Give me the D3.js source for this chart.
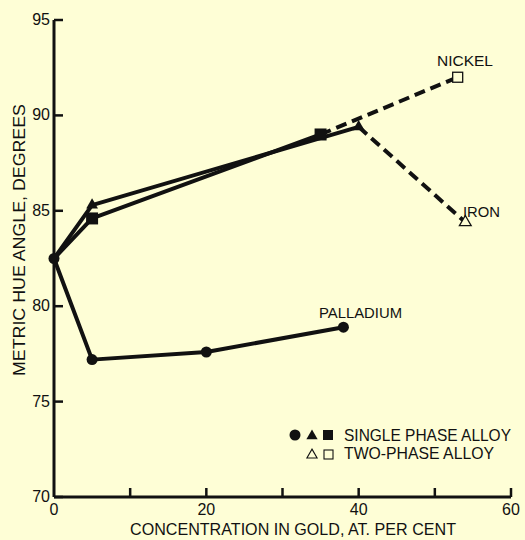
<!DOCTYPE html>
<html>
<head>
<meta charset="utf-8">
<script src="https://cdn.jsdelivr.net/npm/d3@7"></script>
<style>
  html, body { margin: 0; padding: 0; background: #fefed6; }
  svg { display: block; font-family: "Liberation Sans", Arial, sans-serif; }
</style>
</head>
<body>
<svg id="chart" width="525" height="540"></svg>
<script>
// values
const palladiumX = [0, 5, 20, 38];
const palladiumY = [82.5, 77.2, 77.6, 78.9];

const ironX      = [0, 5, 40];
const ironY      = [82.5, 85.3, 89.4];
const ironTwoX   = [40, 54];
const ironTwoY   = [89.4, 84.4];

const nickelX    = [0, 5, 35];
const nickelY    = [82.5, 84.6, 89.0];
const nickelTwoX = [35, 53];
const nickelTwoY = [89.0, 92.0];

const xTicks      = [0, 10, 20, 30, 40, 50, 60];
const xTickLabels = [0, 20, 40, 60];
const yTicks      = [70, 75, 80, 85, 90, 95];

const bg  = "#fefed6";
const ink = "#111";
const svg = d3.select("#chart");

const x = d3.scaleLinear().domain([0, 60]).range([54, 511]);
const y = d3.scaleLinear().domain([70, 95]).range([497, 20]);

const pts = (xs, ys) => xs.map((v, i) => [x(v), y(ys[i])]);
const line = d3.line();

// axes
const g = svg.append("g");
g.append("line").attr("x1", x(0)).attr("x2", x(0)).attr("y1", y(95)).attr("y2", y(70))
  .attr("stroke", ink).attr("stroke-width", 3);
g.append("line").attr("x1", x(0)).attr("x2", x(60)).attr("y1", y(70)).attr("y2", y(70))
  .attr("stroke", ink).attr("stroke-width", 3);

g.selectAll("line.yt").data(yTicks).enter().append("line")
  .attr("class", "yt")
  .attr("x1", x(0)).attr("x2", x(0) + 9)
  .attr("y1", d => y(d)).attr("y2", d => y(d))
  .attr("stroke", ink).attr("stroke-width", 2.5);

g.selectAll("text.yl").data(yTicks).enter().append("text")
  .attr("class", "yl")
  .attr("x", x(0) - 4).attr("y", d => y(d) + 5)
  .attr("text-anchor", "end")
  .attr("font-size", 16).attr("fill", ink)
  .text(d => d);

g.selectAll("line.xt").data(xTicks.slice(1)).enter().append("line")
  .attr("class", "xt")
  .attr("x1", d => x(d)).attr("x2", d => x(d))
  .attr("y1", y(70)).attr("y2", y(70) - 9)
  .attr("stroke", ink).attr("stroke-width", 2.5);

g.selectAll("text.xl").data(xTickLabels).enter().append("text")
  .attr("class", "xl")
  .attr("x", d => x(d)).attr("y", y(70) + 18)
  .attr("text-anchor", "middle")
  .attr("font-size", 16).attr("fill", ink)
  .text(d => d);

g.append("text")
  .attr("x", 130).attr("y", 535)
  .attr("font-size", 16.5).attr("fill", ink)
  .attr("textLength", 326).attr("lengthAdjust", "spacingAndGlyphs")
  .text("CONCENTRATION IN GOLD, AT. PER CENT");

g.append("text")
  .attr("transform", "translate(25,376) rotate(-90)")
  .attr("font-size", 16).attr("fill", ink)
  .attr("textLength", 272).attr("lengthAdjust", "spacingAndGlyphs")
  .text("METRIC HUE ANGLE, DEGREES");

// lines
const solid = [pts(palladiumX, palladiumY), pts(ironX, ironY), pts(nickelX, nickelY)];
svg.selectAll("path.solid").data(solid).enter().append("path")
  .attr("class", "solid")
  .attr("d", line).attr("fill", "none")
  .attr("stroke", ink).attr("stroke-width", 4).attr("stroke-linejoin", "round");

const dashed = [pts(ironTwoX, ironTwoY), pts(nickelTwoX, nickelTwoY)];
svg.selectAll("path.dash").data(dashed).enter().append("path")
  .attr("class", "dash")
  .attr("d", line).attr("fill", "none")
  .attr("stroke", ink).attr("stroke-width", 4)
  .attr("stroke-dasharray", "11,6");

// markers
const tri = d3.symbol().type(d3.symbolTriangle);

svg.selectAll("circle.pd").data(pts(palladiumX, palladiumY)).enter().append("circle")
  .attr("class", "pd")
  .attr("cx", d => d[0]).attr("cy", d => d[1]).attr("r", 5.5).attr("fill", ink);

svg.selectAll("path.fe").data(pts(ironX, ironY).slice(1)).enter().append("path")
  .attr("class", "fe")
  .attr("transform", d => `translate(${d[0]},${d[1]})`)
  .attr("d", tri.size(60)()).attr("fill", ink);

svg.selectAll("rect.ni").data(pts(nickelX, nickelY).slice(1)).enter().append("rect")
  .attr("class", "ni")
  .attr("x", d => d[0] - 6).attr("y", d => d[1] - 6)
  .attr("width", 12).attr("height", 12).attr("fill", ink);

// two-phase end points (open)
const feEnd = pts(ironTwoX, ironTwoY)[1];
svg.append("path")
  .attr("transform", `translate(${feEnd[0]},${feEnd[1]})`)
  .attr("d", tri.size(60)())
  .attr("fill", bg).attr("stroke", ink).attr("stroke-width", 1.3);

const niEnd = pts(nickelTwoX, nickelTwoY)[1];
svg.append("rect")
  .attr("x", niEnd[0] - 5).attr("y", niEnd[1] - 5)
  .attr("width", 10).attr("height", 10)
  .attr("fill", bg).attr("stroke", ink).attr("stroke-width", 1.3);

// series labels
const labels = [
  { t: "NICKEL", x: 437, y: 66, w: 56 },
  { t: "IRON", x: 463, y: 217, w: 37 },
  { t: "PALLADIUM", x: 319, y: 318, w: 83 }
];
svg.selectAll("text.lab").data(labels).enter().append("text")
  .attr("class", "lab")
  .attr("x", d => d.x).attr("y", d => d.y)
  .attr("font-size", 15.5).attr("fill", ink)
  .attr("textLength", d => d.w).attr("lengthAdjust", "spacingAndGlyphs")
  .text(d => d.t);

// legend
const lg = svg.append("g");
lg.append("circle").attr("cx", 295).attr("cy", 435).attr("r", 5.5).attr("fill", ink);
lg.append("path").attr("transform", "translate(312,436)").attr("d", tri.size(55)()).attr("fill", ink);
lg.append("rect").attr("x", 323).attr("y", 430).attr("width", 10).attr("height", 10).attr("fill", ink);
lg.append("text").attr("x", 344).attr("y", 441).attr("font-size", 16.5).attr("fill", ink)
  .attr("textLength", 167).attr("lengthAdjust", "spacingAndGlyphs")
  .text("SINGLE PHASE ALLOY");

lg.append("path").attr("transform", "translate(312,455)").attr("d", tri.size(45)())
  .attr("fill", "none").attr("stroke", ink).attr("stroke-width", 1.1);
lg.append("rect").attr("x", 324).attr("y", 450).attr("width", 9).attr("height", 9)
  .attr("fill", "none").attr("stroke", ink).attr("stroke-width", 1.1);
lg.append("text").attr("x", 344).attr("y", 459).attr("font-size", 16.5).attr("fill", ink)
  .attr("textLength", 150).attr("lengthAdjust", "spacingAndGlyphs")
  .text("TWO-PHASE ALLOY");
</script>
</body>
</html>
